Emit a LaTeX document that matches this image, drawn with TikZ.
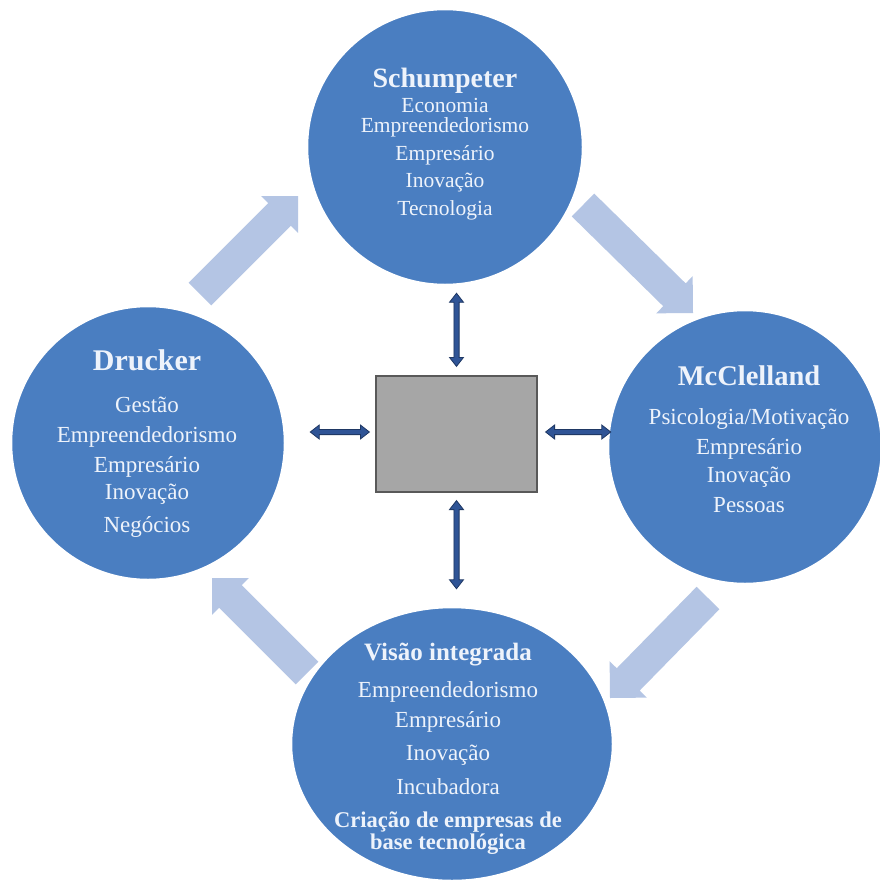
\documentclass[tikz,border=0pt]{standalone}
\usepackage{fontspec}
\setmainfont{Liberation Serif}
\usetikzlibrary{calc,shapes.geometric}
\definecolor{circblue}{RGB}{74,126,193}
\definecolor{lightarr}{RGB}{180,197,228}
\definecolor{darkarr}{RGB}{47,84,150}
\definecolor{darkedge}{RGB}{31,56,100}
\definecolor{boxgray}{RGB}{166,166,166}
\definecolor{boxedge}{RGB}{89,89,89}
\definecolor{txtwhite}{RGB}{238,243,251}
% block arrow from tail #1 to tip #2
\newcommand\blockarr[2]{%
 \fill[lightarr] ($(#1)!16pt!90:(#2)$) -- ($(#2)!26pt!(#1)!16pt!-90:(#1)$) -- ($(#2)!26pt!(#1)!26pt!-90:(#1)$) -- (#2) -- ($(#2)!26pt!(#1)!26pt!90:(#1)$) -- ($(#2)!26pt!(#1)!16pt!90:(#1)$) -- ($(#1)!16pt!-90:(#2)$) -- cycle;}
% double-headed block arrow between #1 and #2
\newcommand\dblarr[2]{%
 \filldraw[fill=darkarr, draw=darkedge, line width=0.8pt, line join=miter] (#1) -- ($(#1)!9pt!(#2)!7pt!90:(#2)$) -- ($(#1)!9pt!(#2)!2.6pt!90:(#2)$) -- ($(#2)!9pt!(#1)!2.6pt!-90:(#1)$) -- ($(#2)!9pt!(#1)!7pt!-90:(#1)$) -- (#2) -- ($(#2)!9pt!(#1)!7pt!90:(#1)$) -- ($(#2)!9pt!(#1)!2.6pt!90:(#1)$) -- ($(#1)!9pt!(#2)!2.6pt!-90:(#2)$) -- ($(#1)!9pt!(#2)!7pt!-90:(#2)$) -- cycle;}
\tikzset{
 circ/.style={circle, fill=circblue, draw=white, line width=2.5pt, inner sep=0pt},
 hd/.style={text=txtwhite, inner sep=0pt, text height=0.7em, text depth=0.22em},
 bd/.style={text=txtwhite, inner sep=0pt, text height=0.7em, text depth=0.22em, font=\fontsize{23}{25}\selectfont},
 sbd/.style={bd, font=\fontsize{21.5}{23}\selectfont},
}
\begin{document}
\begin{tikzpicture}[x=1pt,y=-1pt]
\useasboundingbox (0,0) rectangle (879,886);
\fill[white] (0,0) rectangle (879,886);
% light cycle arrows
\coordinate (a1t) at (200,294); \coordinate (a1p) at (298,196);
\coordinate (a2t) at (583,205); \coordinate (a2p) at (693,313);
\coordinate (a3t) at (708,598); \coordinate (a3p) at (610,698);
\coordinate (a4t) at (307,673); \coordinate (a4p) at (212,578);
\blockarr{a1t}{a1p}
\blockarr{a2t}{a2p}
\blockarr{a3t}{a3p}
\blockarr{a4t}{a4p}
% circles
\node[circ, minimum size=276pt] (sch) at (445,147) {};
\node[circ, minimum size=274pt] (mcc) at (745,447) {};
\node[circ, minimum size=274pt] (dru) at (148,443) {};
\node[ellipse, fill=circblue, draw=white, line width=2.5pt, inner sep=0pt, minimum width=322pt, minimum height=274pt] (vis) at (452,744) {};
% central box
\node[draw=boxedge, fill=boxgray, line width=1.2pt, minimum width=161pt, minimum height=116pt, inner sep=0pt] (ctr) at (456.5,434) {};
% double arrows
\dblarr{$(sch.south -| ctr.north)+(0,7)$}{$(ctr.north)+(0,-9)$}
\dblarr{$(ctr.south)+(0,8)$}{$(vis.north -| ctr.south)+(0,-17)$}
\dblarr{$(dru.east |- ctr.west)+(24,-2)$}{$(ctr.west)+(-6,-2)$}
\dblarr{$(ctr.east)+(8,-2)$}{$(mcc.west |- ctr.east)+(4,-2)$}
% Schumpeter texts
\node[hd, font=\bfseries\fontsize{28}{30}\selectfont] (s0) at (445,85) {Schumpeter};
\node[sbd] (s1) at (445,110) {Economia};
\node[sbd] (s2) at (445,130) {Empreendedorismo};
\node[sbd] (s3) at (445,158) {Empresário};
\node[sbd] (s4) at (445,185) {Inovação};
\node[sbd] (s5) at (445,213) {Tecnologia};
% McClelland texts
\node[hd, font=\bfseries\fontsize{28.5}{30}\selectfont] (m0) at (749,383) {McClelland};
\node[bd] (m1) at (749,422) {Psicologia/Motivação};
\node[bd] (m2) at (749,452) {Empresário};
\node[bd] (m3) at (749,480) {Inovação};
\node[bd] (m4) at (749,510) {Pessoas};
% Drucker texts
\node[hd, font=\bfseries\fontsize{30}{32}\selectfont] (d0) at (147,368) {Drucker};
\node[bd] (d1) at (147,410) {Gestão};
\node[bd] (d2) at (147,440) {Empreendedorismo};
\node[bd] (d3) at (147,470) {Empresário};
\node[bd] (d4) at (147,497) {Inovação};
\node[bd] (d5) at (147,530) {Negócios};
% Visao integrada texts
\node[hd, font=\bfseries\fontsize{25}{27}\selectfont] (v0) at (448,658) {Visão integrada};
\node[bd] (v1) at (448,695) {Empreendedorismo};
\node[bd] (v2) at (448,725) {Empresário};
\node[bd] (v3) at (448,758) {Inovação};
\node[bd] (v4) at (448,792) {Incubadora};
\node[hd, font=\bfseries\fontsize{22.5}{24}\selectfont] (v5) at (448,825) {Criação de empresas de};
\node[hd, font=\bfseries\fontsize{22.5}{24}\selectfont] (v6) at (448,847) {base tecnológica};
\end{tikzpicture}
\end{document}
